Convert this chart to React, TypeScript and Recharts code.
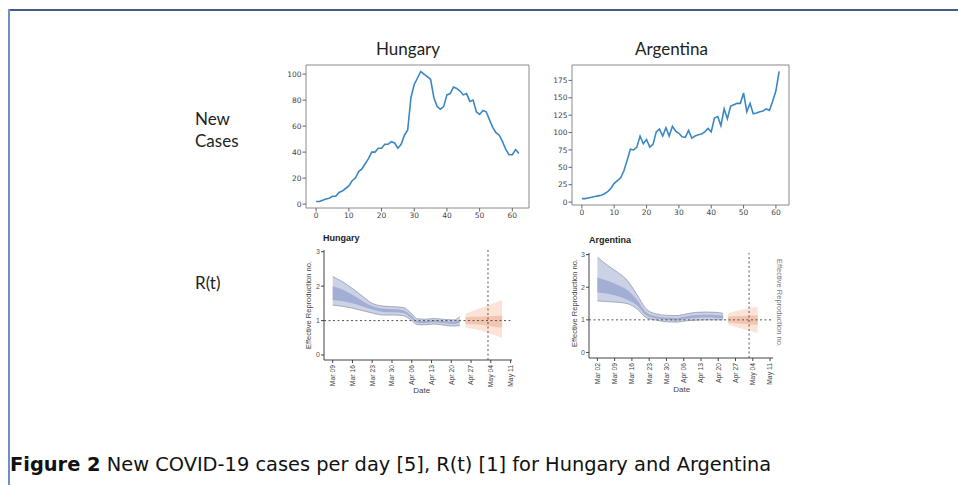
import React from 'react';
import {
  LineChart,
  Line,
  XAxis,
  YAxis,
  ReferenceArea,
  ComposedChart,
  Area,
  ReferenceLine,
} from 'recharts';

// ---------- New cases per day ----------
const hungaryCases = [
  2, 2, 3, 4, 4.5, 6, 6, 9, 10, 12,
  14, 18, 20, 25, 27, 31, 35, 40, 40, 43,
  43, 46, 46, 48, 47, 43, 46, 53, 57, 82,
  92, 97, 102, 100, 98, 96, 82, 75, 73, 75,
  84, 85, 90, 89, 87, 84, 85, 79, 80, 71,
  69, 72, 71, 65, 59, 55, 53, 48, 42, 38,
  38, 42, 39,
];
const argentinaCases = [
  5, 5, 6, 7, 8, 9, 10, 12, 15, 20,
  27, 31, 35, 45, 60, 76, 75, 79, 95, 84,
  90, 79, 83, 101, 105, 95, 107, 95, 109, 102,
  99, 94, 93, 103, 92, 95, 97, 98, 101, 106,
  101, 121, 123, 110, 134, 120, 138, 140, 142, 142,
  157, 130, 142, 127, 128, 130, 131, 134, 132, 145,
  160, 188,
];
const caseXTicks = [0, 10, 20, 30, 40, 50, 60];
const hungaryYTicks = [0, 20, 40, 60, 80, 100];
const argentinaYTicks = [0, 25, 50, 75, 100, 125, 150, 175];

// ---------- R(t) ----------
const hungaryDateLabels = ['Mar 09', 'Mar 16', 'Mar 23', 'Mar 30', 'Apr 06', 'Apr 13', 'Apr 20', 'Apr 27', 'May 04', 'May 11'];
const argentinaDateLabels = ['Mar 02', 'Mar 09', 'Mar 16', 'Mar 23', 'Mar 30', 'Apr 06', 'Apr 13', 'Apr 20', 'Apr 27', 'May 04', 'May 11'];
const rYTicks = [0, 1, 2, 3];

// Hungary: day 0 = Mar 09
const huBlueDays = [0, 3, 7, 11, 14, 18, 22, 25, 28, 30, 33, 36, 40, 43, 45];
const huBlueOuterLow = [1.45, 1.42, 1.36, 1.28, 1.22, 1.16, 1.16, 1.14, 1.0, 0.88, 0.88, 0.9, 0.86, 0.84, 0.86];
const huBlueOuterHigh = [2.28, 2.15, 1.93, 1.68, 1.5, 1.42, 1.4, 1.38, 1.2, 1.05, 1.04, 1.06, 1.03, 1.02, 1.12];
const huBlueInnerLow = [1.6, 1.57, 1.5, 1.4, 1.32, 1.25, 1.24, 1.22, 1.06, 0.94, 0.93, 0.95, 0.92, 0.9, 0.95];
const huBlueInnerHigh = [2.0, 1.92, 1.75, 1.55, 1.42, 1.34, 1.33, 1.3, 1.13, 0.99, 0.99, 1.01, 0.98, 0.97, 1.04];
const huOrangeDays = [47, 53, 57, 60];
const huOrangeOuterLow = [0.8, 0.7, 0.58, 0.5];
const huOrangeOuterHigh = [1.2, 1.38, 1.5, 1.6];
const huOrangeInnerLow = [0.9, 0.87, 0.82, 0.8];
const huOrangeInnerHigh = [1.1, 1.12, 1.13, 1.15];
const huNowDay = 55;

// Argentina: day 0 = Mar 02
const arBlueDays = [0, 4, 8, 12, 16, 20, 24, 28, 32, 36, 40, 44, 48, 51];
const arBlueOuterLow = [1.58, 1.56, 1.54, 1.5, 1.34, 1.06, 0.99, 0.94, 0.93, 0.97, 0.99, 1.0, 1.0, 1.0];
const arBlueOuterHigh = [2.92, 2.68, 2.47, 2.22, 1.78, 1.32, 1.18, 1.14, 1.13, 1.18, 1.23, 1.24, 1.23, 1.2];
const arBlueInnerLow = [1.85, 1.8, 1.73, 1.62, 1.45, 1.13, 1.04, 1.0, 0.98, 1.03, 1.06, 1.07, 1.06, 1.05];
const arBlueInnerHigh = [2.3, 2.2, 2.08, 1.92, 1.62, 1.22, 1.11, 1.07, 1.06, 1.11, 1.15, 1.16, 1.15, 1.13];
const arOrangeDays = [53, 58, 62, 65];
const arOrangeOuterLow = [0.85, 0.74, 0.66, 0.6];
const arOrangeOuterHigh = [1.2, 1.3, 1.37, 1.4];
const arOrangeInnerLow = [0.92, 0.88, 0.86, 0.85];
const arOrangeInnerHigh = [1.1, 1.12, 1.13, 1.14];
const arNowDay = 61.5;

// ---------- builders ----------
function caseRows(values: number[]) {
  return values.map((v, i) => ({ day: i, cases: v }));
}

function bandRows(
  bDays: number[], bOL: number[], bOH: number[], bIL: number[], bIH: number[],
  oDays: number[], oOL: number[], oOH: number[], oIL: number[], oIH: number[],
) {
  const rows: any[] = [];
  bDays.forEach((d, i) =>
    rows.push({
      day: d,
      blueOuter: [bOL[i], bOH[i]],
      blueInner: [bIL[i], bIH[i]],
      blueLo: bOL[i],
      blueHi: bOH[i],
    }),
  );
  oDays.forEach((d, i) =>
    rows.push({
      day: d,
      orangeOuter: [oOL[i], oOH[i]],
      orangeInner: [oIL[i], oIH[i]],
    }),
  );
  return rows.sort((a, b) => a.day - b.day);
}

const weekTicks = (labels: string[]) => labels.map((_, i) => i * 7);

const mplTick = { fontSize: 7.5, fill: '#444', fontFamily: 'DejaVu Sans' };

function CasesChart(props: {
  data: any[];
  xDomain: [number, number];
  yDomain: [number, number];
  yTicks: number[];
  width: number;
  height: number;
  yAxisWidth: number;
}) {
  const { data, xDomain, yDomain, yTicks, width, height, yAxisWidth } = props;
  return (
    <LineChart width={width} height={height} data={data} margin={{ top: 10, right: 5, bottom: 0, left: 0 }}>
      <XAxis
        type="number"
        dataKey="day"
        domain={xDomain}
        ticks={caseXTicks}
        allowDataOverflow
        interval={0}
        axisLine={false}
        tickLine={{ stroke: '#666' }}
        tickSize={3.5}
        tickMargin={1}
        tick={mplTick}
        height={20}
      />
      <YAxis
        type="number"
        domain={yDomain}
        ticks={yTicks}
        allowDataOverflow
        interval={0}
        axisLine={false}
        tickLine={{ stroke: '#666' }}
        tickSize={3.5}
        tickMargin={1}
        tick={mplTick}
        width={yAxisWidth}
      />
      <Line
        type="linear"
        dataKey="cases"
        stroke="#3b87c4"
        strokeWidth={1.6}
        dot={false}
        isAnimationActive={false}
      />
      <ReferenceArea
        x1={xDomain[0]}
        x2={xDomain[1]}
        y1={yDomain[0]}
        y2={yDomain[1]}
        fill="none"
        stroke="#8a8a8a"
        strokeWidth={1}
        ifOverflow="visible"
      />
    </LineChart>
  );
}

function makeDateTick(labels: string[]) {
  return (p: any) => {
    const label = labels[Math.round(p.payload.value / 7)];
    return (
      <text
        x={p.x}
        y={p.y}
        transform={`rotate(-90 ${p.x} ${p.y})`}
        textAnchor="end"
        dy={2.4}
        fontSize={6.8}
        fill="#444"
        fontFamily="Liberation Sans"
      >
        {label}
      </text>
    );
  };
}

function RtChart(props: {
  data: any[];
  labels: string[];
  xDomain: [number, number];
  yDomain: [number, number];
  nowDay: number;
  width: number;
  height: number;
}) {
  const { data, labels, xDomain, yDomain, nowDay, width, height } = props;
  return (
    <ComposedChart width={width} height={height} data={data} margin={{ top: 10, right: 6, bottom: 0, left: 0 }}>
      <XAxis
        type="number"
        dataKey="day"
        domain={xDomain}
        ticks={weekTicks(labels)}
        allowDataOverflow
        interval={0}
        axisLine={{ stroke: '#444' }}
        tickLine={{ stroke: '#444' }}
        tickSize={3}
        tickMargin={2}
        tick={makeDateTick(labels)}
        height={35}
      />
      <YAxis
        type="number"
        domain={yDomain}
        ticks={rYTicks}
        allowDataOverflow
        interval={0}
        axisLine={{ stroke: '#444' }}
        tickLine={{ stroke: '#444' }}
        tickSize={3}
        tickMargin={1}
        tick={{ fontSize: 7, fill: '#555', fontFamily: 'Liberation Sans' }}
        width={40}
      />
      <Area type="monotone" dataKey="blueOuter" stroke="none" fill="#cbd2e6" fillOpacity={1} isAnimationActive={false} />
      <Area type="monotone" dataKey="blueInner" stroke="none" fill="#a3aed4" fillOpacity={1} isAnimationActive={false} />
      <Line type="monotone" dataKey="blueHi" stroke="#8a8fa0" strokeWidth={0.7} dot={false} isAnimationActive={false} />
      <Line type="monotone" dataKey="blueLo" stroke="#8a8fa0" strokeWidth={0.7} dot={false} isAnimationActive={false} />
      <Area type="monotone" dataKey="orangeOuter" stroke="none" fill="#fbe3d8" fillOpacity={1} isAnimationActive={false} />
      <Area type="monotone" dataKey="orangeInner" stroke="none" fill="#f3c5b0" fillOpacity={1} isAnimationActive={false} />
      <ReferenceLine y={1} stroke="#555" strokeWidth={1} strokeDasharray="2 2.5" />
      <ReferenceLine x={nowDay} stroke="#555" strokeWidth={1} strokeDasharray="2 2.5" />
    </ComposedChart>
  );
}

const huCaseRows = caseRows(hungaryCases);
const arCaseRows = caseRows(argentinaCases);
const huRtRows = bandRows(
  huBlueDays, huBlueOuterLow, huBlueOuterHigh, huBlueInnerLow, huBlueInnerHigh,
  huOrangeDays, huOrangeOuterLow, huOrangeOuterHigh, huOrangeInnerLow, huOrangeInnerHigh,
);
const arRtRows = bandRows(
  arBlueDays, arBlueOuterLow, arBlueOuterHigh, arBlueInnerLow, arBlueInnerHigh,
  arOrangeDays, arOrangeOuterLow, arOrangeOuterHigh, arOrangeInnerLow, arOrangeInnerHigh,
);

const abs = (left: number, top: number): React.CSSProperties => ({ position: 'absolute', left, top });

export default function App() {
  return (
    <div style={{ position: 'absolute', left: 0, top: 0, width: 958, height: 485, background: '#fff', overflow: 'hidden' }}>
      {/* page frame */}
      <div style={{ position: 'absolute', left: 8, top: 9, width: 960, height: 2, background: '#3e5d8d' }} />
      <div style={{ position: 'absolute', left: 8, top: 9, width: 2, height: 480, background: '#7090c4' }} />

      <div style={abs(260, 55)}>
        <CasesChart data={huCaseRows} xDomain={[-3.1, 65.1]} yDomain={[-3, 107]} yTicks={hungaryYTicks} width={274} height={173} yAxisWidth={46} />
      </div>
      <div style={abs(526, 55)}>
        <CasesChart data={arCaseRows} xDomain={[-3.05, 64.05]} yDomain={[-4.15, 197.15]} yTicks={argentinaYTicks} width={268} height={170} yAxisWidth={46} />
      </div>
      <div style={abs(284, 240)}>
        <RtChart data={huRtRows} labels={hungaryDateLabels} xDomain={[-3.08, 63.5]} yDomain={[-0.145, 3.05]} nowDay={huNowDay} width={234} height={155} />
      </div>
      <div style={abs(549, 243)}>
        <RtChart data={arRtRows} labels={argentinaDateLabels} xDomain={[-3.4, 71.2]} yDomain={[-0.17, 3.05]} nowDay={arNowDay} width={230} height={150} />
      </div>

      <svg width={958} height={485} style={{ position: 'absolute', left: 0, top: 0, pointerEvents: 'none' }}>
        <g fontFamily="Lato" fontSize={17} fill="#222">
          <text x={376} y={55}>Hungary</text>
          <text x={635} y={55}>Argentina</text>
          <text x={195} y={125}>New</text>
          <text x={195} y={147}>Cases</text>
          <text x={195} y={289}>R(t)</text>
        </g>
        <g fontFamily="Liberation Sans" fontWeight="bold" fontSize={9} fill="#222">
          <text x={323} y={241}>Hungary</text>
          <text x={589} y={243}>Argentina</text>
        </g>
        <g fontFamily="Liberation Sans" fontSize={7.5} fill="#444">
          <text x={310.5} y={305} textAnchor="middle" transform="rotate(-90 310.5 305)">Effective Reproduction no.</text>
          <text x={576.5} y={303} textAnchor="middle" transform="rotate(-90 576.5 303)">Effective Reproduction no.</text>
          <text x={776.5} y={303} textAnchor="middle" transform="rotate(90 776.5 303)" fill="#777">Effective Reproduction no.</text>
        </g>
        <g fontFamily="Liberation Sans" fontSize={8} fill="#444" textAnchor="middle">
          <text x={421.7} y={393}>Date</text>
          <text x={681.7} y={392}>Date</text>
        </g>
        <text x={10} y={471} fontFamily="DejaVu Sans" fontSize={19.4} fill="#111">
          <tspan fontWeight="bold">Figure 2</tspan>
          <tspan> New COVID-19 cases per day [5], R(t) [1] for Hungary and Argentina</tspan>
        </text>
      </svg>
    </div>
  );
}
